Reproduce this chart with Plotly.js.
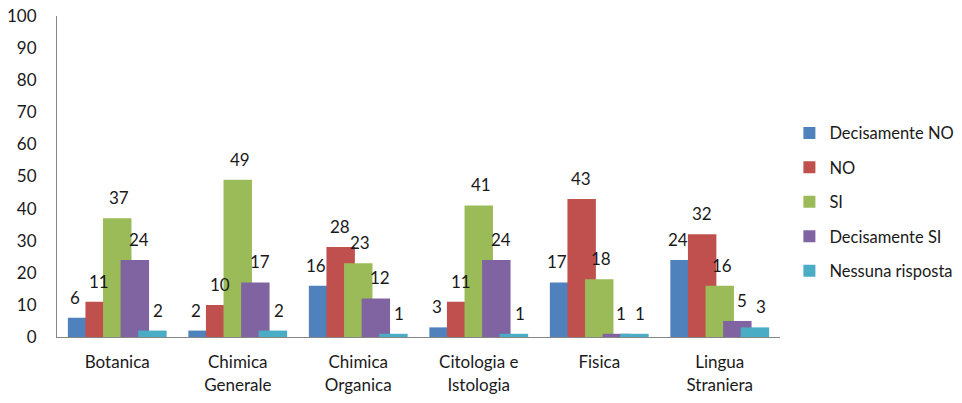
<!DOCTYPE html>
<html>
<head>
<meta charset="utf-8">
<script src="https://cdn.plot.ly/plotly-3.0.1.min.js"></script>
<style>html,body{margin:0;padding:0;background:#fff;}#chart{width:962px;height:403px;}</style>
</head>
<body>
<div id="chart"></div>
<script>
// ---- data ----
const categories = ["Botanica", "Chimica<br>Generale", "Chimica<br>Organica", "Citologia e<br>Istologia", "Fisica", "Lingua<br>Straniera"];
const seriesNames = ["Decisamente NO", "NO", "SI", "Decisamente SI", "Nessuna risposta"];
const decisamenteNO = [6, 2, 16, 3, 17, 24];
const no = [11, 10, 28, 11, 43, 32];
const si = [37, 49, 23, 41, 18, 16];
const decisamenteSI = [24, 17, 12, 24, 1, 5];
const nessunaRisposta = [2, 2, 1, 1, 1, 3];
const yTicks = [0, 10, 20, 30, 40, 50, 60, 70, 80, 90, 100];

// ---- style ----
const seriesValues = [decisamenteNO, no, si, decisamenteSI, nessunaRisposta];
const colors = ["#4F81BD", "#C0504D", "#9BBB59", "#8064A2", "#4BACC6"];
const barWidth = 0.236, barStep = 0.146, firstOffset = -0.41;
const labelShift = [-42, -18, 2, 22, 41];
const FONT = "Lato, 'Open Sans', sans-serif";
const TEXT = "#1a1a1a";

const traces = seriesNames.map((name, i) => ({
  type: "bar",
  name: name,
  x: categories,
  y: seriesValues[i],
  width: barWidth,
  offset: firstOffset + barStep * i,
  marker: {color: colors[i], line: {width: 0}},
  legendgroup: "g" + i,
  hoverinfo: "none"
}));

const annotations = [];
seriesValues.forEach((vals, i) => {
  vals.forEach((v, j) => {
    annotations.push({
      xref: "x", yref: "y", x: categories[j], y: v,
      text: String(v), showarrow: false,
      xanchor: "center", yanchor: "bottom",
      xshift: labelShift[i], yshift: 8,
      font: {family: FONT, size: 17, color: TEXT}
    });
  });
});

const layout = {
  width: 962, height: 403,
  margin: {l: 57, r: 182, t: 16, b: 66, pad: 0, autoexpand: false},
  paper_bgcolor: "#fff", plot_bgcolor: "#fff",
  barmode: "overlay",
  showlegend: true,
  font: {family: FONT, size: 17, color: TEXT},
  xaxis: {
    type: "category",
    showline: true, linecolor: "#868686", linewidth: 1,
    showgrid: false, zeroline: false,
    ticks: "", ticklabelstandoff: 10,
    tickfont: {family: FONT, size: 17, color: TEXT},
    fixedrange: true
  },
  yaxis: {
    range: [0, 100],
    tickvals: yTicks,
    showline: true, linecolor: "#868686", linewidth: 1,
    showgrid: false, zeroline: false,
    ticks: "", ticklabelstandoff: 16,
    tickfont: {family: FONT, size: 17, color: TEXT},
    fixedrange: true
  },
  legend: {
    x: 1.013, xanchor: "left", y: 0.42, yanchor: "middle",
    traceorder: "grouped", tracegroupgap: 10,
    font: {family: FONT, size: 16.5, color: TEXT},
    bgcolor: "rgba(0,0,0,0)", borderwidth: 0
  },
  annotations: annotations
};

Plotly.newPlot("chart", traces, layout, {displayModeBar: false, staticPlot: true});
</script>
</body>
</html>
